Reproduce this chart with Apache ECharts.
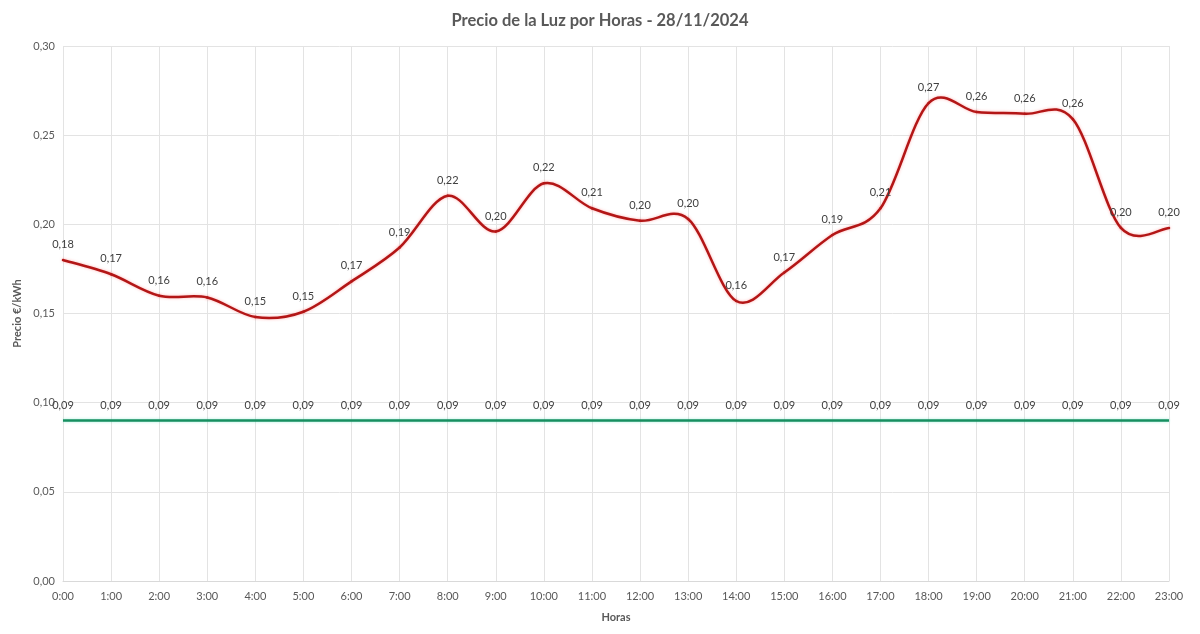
<!DOCTYPE html>
<html>
<head>
<meta charset="utf-8">
<script src="https://cdn.jsdelivr.net/npm/echarts@6/dist/echarts.min.js"></script>
<style>html,body{margin:0;padding:0;background:#fff}#c{width:1200px;height:634px}</style>
</head>
<body>
<div id="c"></div>
<script>
const hours = ['0:00','1:00','2:00','3:00','4:00','5:00','6:00','7:00','8:00','9:00','10:00','11:00','12:00','13:00','14:00','15:00','16:00','17:00','18:00','19:00','20:00','21:00','22:00','23:00'];
const precio = [0.180,0.172,0.160,0.159,0.148,0.151,0.168,0.187,0.216,0.196,0.223,0.209,0.202,0.203,0.157,0.173,0.194,0.209,0.268,0.263,0.262,0.259,0.198,0.198];
const referencia = [0.09,0.09,0.09,0.09,0.09,0.09,0.09,0.09,0.09,0.09,0.09,0.09,0.09,0.09,0.09,0.09,0.09,0.09,0.09,0.09,0.09,0.09,0.09,0.09];
const yTicks = [0, 0.05, 0.10, 0.15, 0.20, 0.25, 0.30];

const fmt = v => Number(v).toFixed(2).replace('.', ',');
const FONT = 'Lato, "Open Sans", sans-serif';
const RED = '#b31616';
const GREEN = '#178f60';
const LABEL_FONT = '11px Lato, "Open Sans", sans-serif';

// Excel-like smoothed segment (Catmull-Rom style), positioned via the axes' scales
function renderSmooth(values) {
  return function (params, api) {
    const i = params.dataIndex;
    const n = values.length;
    const pt = k => api.coord([Math.min(Math.max(k, 0), n - 1), values[Math.min(Math.max(k, 0), n - 1)]]);
    const p1 = pt(i);
    const children = [];
    if (i < n - 1) {
      const p0 = pt(i - 1), p2 = pt(i + 1), p3 = pt(i + 2);
      const c1 = [p1[0] + (p2[0] - p0[0]) / 6, p1[1] + (p2[1] - p0[1]) / 6];
      const c2 = [p2[0] - (p3[0] - p1[0]) / 6, p2[1] - (p3[1] - p1[1]) / 6];
      children.push({
        type: 'bezierCurve',
        shape: { x1: p1[0], y1: p1[1], cpx1: c1[0], cpy1: c1[1], cpx2: c2[0], cpy2: c2[1], x2: p2[0], y2: p2[1] },
        style: { stroke: RED, lineWidth: 2.5, fill: null, shadowBlur: 3, shadowColor: 'rgba(255,90,90,0.45)', lineCap: 'round' },
        z2: 1
      });
    }
    children.push({
      type: 'text',
      style: { text: fmt(values[i]), x: p1[0], y: p1[1] - 10, align: 'center', verticalAlign: 'bottom', fill: '#404040', font: LABEL_FONT },
      z2: 5
    });
    return { type: 'group', children: children };
  };
}

const chart = echarts.init(document.getElementById('c'));
chart.setOption({
  animation: false,
  backgroundColor: '#fff',
  textStyle: { fontFamily: FONT },
  title: {
    text: 'Precio de la Luz por Horas - 28/11/2024',
    left: 'center', top: 7,
    textStyle: { fontSize: 16.5, fontWeight: 'bold', color: '#595959', fontFamily: FONT }
  },
  grid: { left: 63, right: 31, top: 46, bottom: 53 },
  xAxis: {
    type: 'category',
    data: hours,
    boundaryGap: false,
    name: 'Horas',
    nameLocation: 'middle',
    nameGap: 31,
    nameTextStyle: { fontSize: 11, fontWeight: 'bold', color: '#595959' },
    axisLine: { lineStyle: { color: '#d9d9d9' } },
    axisTick: { show: false },
    axisLabel: { interval: 0, fontSize: 11, color: '#595959', margin: 10 },
    splitLine: { show: true, interval: 0, lineStyle: { color: '#e3e3e3' } }
  },
  yAxis: {
    type: 'value',
    min: yTicks[0], max: yTicks[yTicks.length - 1], interval: 0.05,
    name: 'Precio €/kWh',
    nameLocation: 'middle',
    nameGap: 38,
    nameTextStyle: { fontSize: 11, fontWeight: 'bold', color: '#595959' },
    axisLine: { show: false },
    axisTick: { show: false },
    axisLabel: { fontSize: 11, color: '#595959', margin: 8, formatter: fmt },
    splitLine: { show: true, lineStyle: { color: '#e3e3e3' } }
  },
  series: [
    {
      name: 'Precio',
      type: 'custom',
      data: precio.map((v, i) => [i, v]),
      encode: { x: 0, y: 1 },
      renderItem: renderSmooth(precio),
      clip: false,
      z: 3
    },
    {
      name: 'Referencia',
      type: 'line',
      data: referencia,
      symbol: 'circle',
      symbolSize: 0,
      showSymbol: true,
      lineStyle: { color: GREEN, width: 2.5, shadowBlur: 3, shadowColor: 'rgba(60,220,180,0.45)' },
      itemStyle: { color: GREEN },
      label: { show: true, position: 'top', distance: 10, fontSize: 11, color: '#404040', formatter: p => fmt(p.value) },
      labelLayout: { hideOverlap: false },
      z: 2
    }
  ]
});
</script>
</body>
</html>
